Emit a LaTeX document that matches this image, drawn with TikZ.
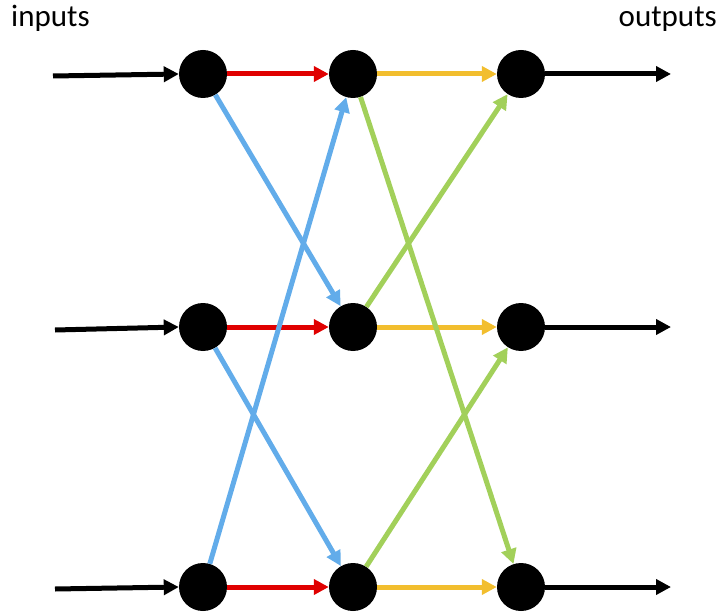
\documentclass[tikz,border=0pt]{standalone}
\usepackage{fontspec}
\setmainfont{Carlito}
\usetikzlibrary{arrows.meta}
\definecolor{cred}{HTML}{E00000}
\definecolor{cblue}{HTML}{62ACEA}
\definecolor{cyellow}{HTML}{F2BE2E}
\definecolor{cgreen}{HTML}{A2D05A}
\begin{document}
\begin{tikzpicture}[x=1pt,y=-1pt,
  neuron/.style={circle,fill=black,minimum size=48pt,inner sep=0pt},
  conn/.style={line width=5pt,-{Triangle[length=15pt,width=15pt]}},
  lbl/.style={font=\fontsize{31}{33}\selectfont,inner sep=0pt}]
\useasboundingbox (0,0) rectangle (725,612);
\foreach \c/\x in {a/203,b/353,c/521}{
  \foreach \r/\y in {1/74,2/327,3/587}{
    \node[neuron] (\c\r) at (\x,\y) {};
  }
}
\coordinate (i1) at (53,76);
\coordinate (i2) at (55,330);
\coordinate (i3) at (55,589);
\coordinate (o1) at (671,74);
\coordinate (o2) at (671,327);
\coordinate (o3) at (671,587);
\node[lbl,anchor=base west] (tin) at (11,27) {inputs};
\node[lbl,anchor=base east] (tout) at (717,27) {outputs};
% black inputs/outputs
\foreach \r in {1,2,3}{
  \draw[conn,black] (i\r) -- (a\r.west);
  \draw[conn,black] (c\r.east) -- (o\r);
}
% red
\foreach \r in {1,2,3}{
  \draw[conn,cred] (a\r) -- (b\r);
}
% yellow
\foreach \r in {1,2,3}{
  \draw[conn,cyellow] (b\r) -- (c\r);
}
% blue
\draw[conn,cblue] (a1) -- (b2);
\draw[conn,cblue] (a2) -- (b3);
\draw[conn,cblue] (a3) -- (b1);
% green
\draw[conn,cgreen] (b1) -- (c3);
\draw[conn,cgreen] (b2) -- (c1);
\draw[conn,cgreen] (b3) -- (c2);
\end{tikzpicture}
\end{document}
